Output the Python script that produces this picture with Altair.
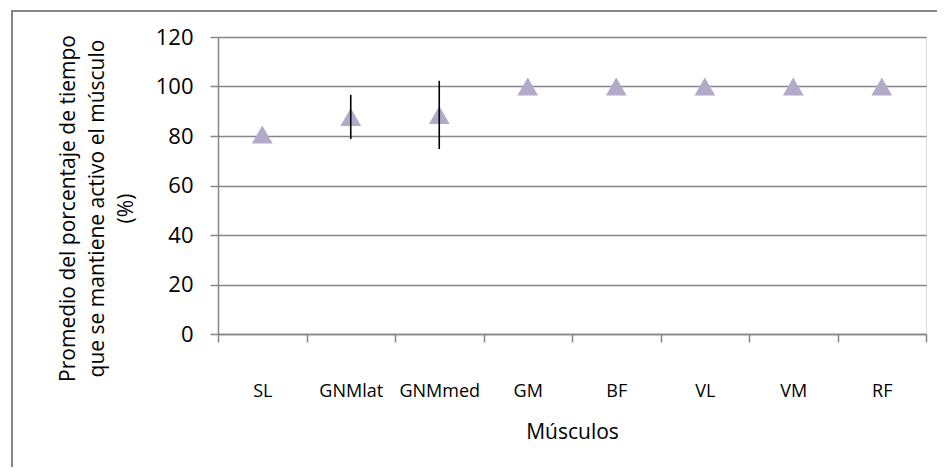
import altair as alt
import pandas as pd

musculos = ["SL", "GNMlat", "GNMmed", "GM", "BF", "VL", "VM", "RF"]
promedio = [80.6, 87.7, 88.5, 100, 100, 100, 100, 100]
desviacion = [0, 8.9, 13.8, 0, 0, 0, 0, 0]
y_ticks = [0, 20, 40, 60, 80, 100, 120]

df = pd.DataFrame({"Músculo": musculos, "Promedio": promedio, "Desv": desviacion})

FONT = "Open Sans"
GRAY = "#868686"

x_enc = alt.X(
    "Músculo:N",
    sort=musculos,
    scale=alt.Scale(type="band", paddingInner=0, paddingOuter=0),
    axis=alt.Axis(
        title="Músculos",
        titleFont=FONT, titleFontSize=21, titleFontWeight="normal", titleColor="black",
        titleY=98, titleBaseline="middle",
        labelFont=FONT, labelFontSize=18, labelColor="black", labelAngle=0,
        labelBaseline="middle", labelPadding=49,
        tickBand="extent", tickSize=8, tickColor=GRAY, tickWidth=1.5,
        domainColor=GRAY, domainWidth=1.5, grid=False,
    ),
)
y_enc = alt.Y(
    "Promedio:Q",
    scale=alt.Scale(domain=[0, 120], nice=False),
    axis=alt.Axis(
        values=y_ticks,
        title=["Promedio del porcentaje de tiempo", "que se mantiene activo el músculo", "(%)"],
        titleFont=FONT, titleFontSize=21, titleFontWeight="normal", titleColor="black",
        titleAngle=-90, titleX=-150, titleY=171, titleAlign="center", titleBaseline="middle",
        titleLineHeight=29,
        labelFont=FONT, labelFontSize=22, labelColor="black", labelPadding=17,
        tickSize=8, tickColor=GRAY, tickWidth=1.5,
        domainColor=GRAY, domainWidth=1.5,
        grid=True, gridColor=GRAY, gridWidth=1.5,
    ),
)

base = alt.Chart(df)

err = base.transform_filter("datum.Desv > 0").transform_calculate(
    lo="datum.Promedio - datum.Desv", hi="datum.Promedio + datum.Desv"
).mark_rule(color="black", strokeWidth=1.6).encode(
    x=x_enc, y="lo:Q", y2="hi:Q"
)

pts = base.mark_point(shape="triangle-up", filled=True, size=430, color="#b3a9c9", opacity=1).encode(
    x=x_enc, y=y_enc
)

frame = pd.DataFrame({"a": [0]})
border_top = alt.Chart(frame).mark_rule(color=GRAY, strokeWidth=2).encode(
    x=alt.value(-207), x2=alt.value(730), y=alt.value(-26)
)
border_left = alt.Chart(frame).mark_rule(color=GRAY, strokeWidth=2).encode(
    x=alt.value(-206), y=alt.value(-27), y2=alt.value(460)
)

chart = alt.layer(pts, err, border_top, border_left).properties(
    width=708, height=297,
    autosize=alt.AutoSizeParams(type="none"),
    padding={"left": 210, "top": 29, "right": 11, "bottom": 133},
).configure_view(stroke=None).configure(background="white")

chart.save("out.html", embed_options={"renderer": "svg", "actions": False})
